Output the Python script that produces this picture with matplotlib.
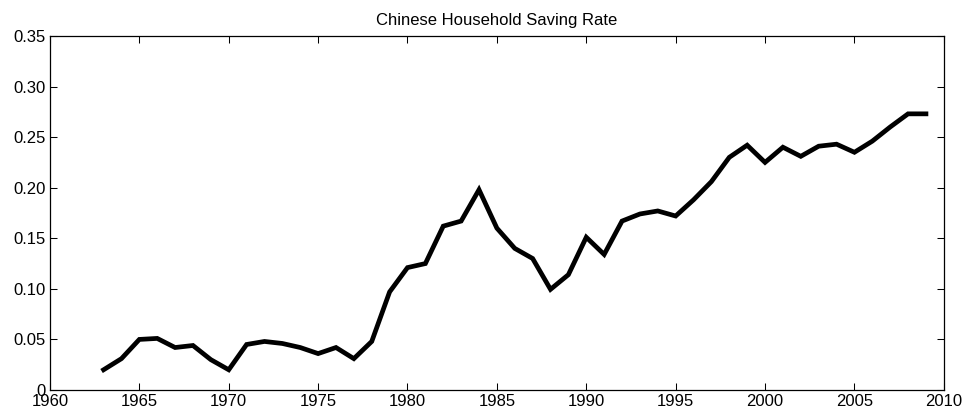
import matplotlib
matplotlib.use("Agg")
import matplotlib.pyplot as plt
from matplotlib.ticker import FuncFormatter

plt.rcParams['font.family'] = ['Liberation Sans', 'DejaVu Sans']

years = list(range(1963, 2010))
saving_rate = [0.020, 0.031, 0.050, 0.051, 0.042, 0.044, 0.030, 0.020,
               0.045, 0.048, 0.046, 0.042, 0.036, 0.042, 0.031, 0.048,
               0.097, 0.121, 0.125, 0.162, 0.167, 0.198, 0.160, 0.140,
               0.130, 0.0995, 0.114, 0.151, 0.134, 0.167, 0.174, 0.177,
               0.172, 0.188, 0.206, 0.230, 0.242, 0.225, 0.240, 0.231,
               0.241, 0.243, 0.235, 0.246, 0.260, 0.273, 0.273]
xticks = list(range(1960, 2011, 5))
yticks = [0, 0.05, 0.10, 0.15, 0.20, 0.25, 0.30, 0.35]
title = 'Chinese Household Saving Rate'

fig = plt.figure(figsize=(9.7, 4.19), dpi=100)
ax = fig.add_axes([0.0515, 0.0692, 0.9215, 0.845])

ax.plot(years, saving_rate, color='black', linewidth=3.4, solid_joinstyle='miter')

ax.set_xlim(1960, 2010)
ax.set_ylim(0, 0.35)
ax.set_xticks(xticks)
ax.set_yticks(yticks)
ax.yaxis.set_major_formatter(FuncFormatter(lambda v, p: '0' if v == 0 else '%.2f' % v))
ax.tick_params(direction='in', length=5, width=0.75, labelsize=12,
               top=True, right=True)
ax.tick_params(axis='x', pad=3)
ax.tick_params(axis='y', pad=3)
for s in ax.spines.values():
    s.set_linewidth(0.9)

ax.set_title(title, fontsize=12, pad=8)

fig.savefig('out.png', dpi=100)
